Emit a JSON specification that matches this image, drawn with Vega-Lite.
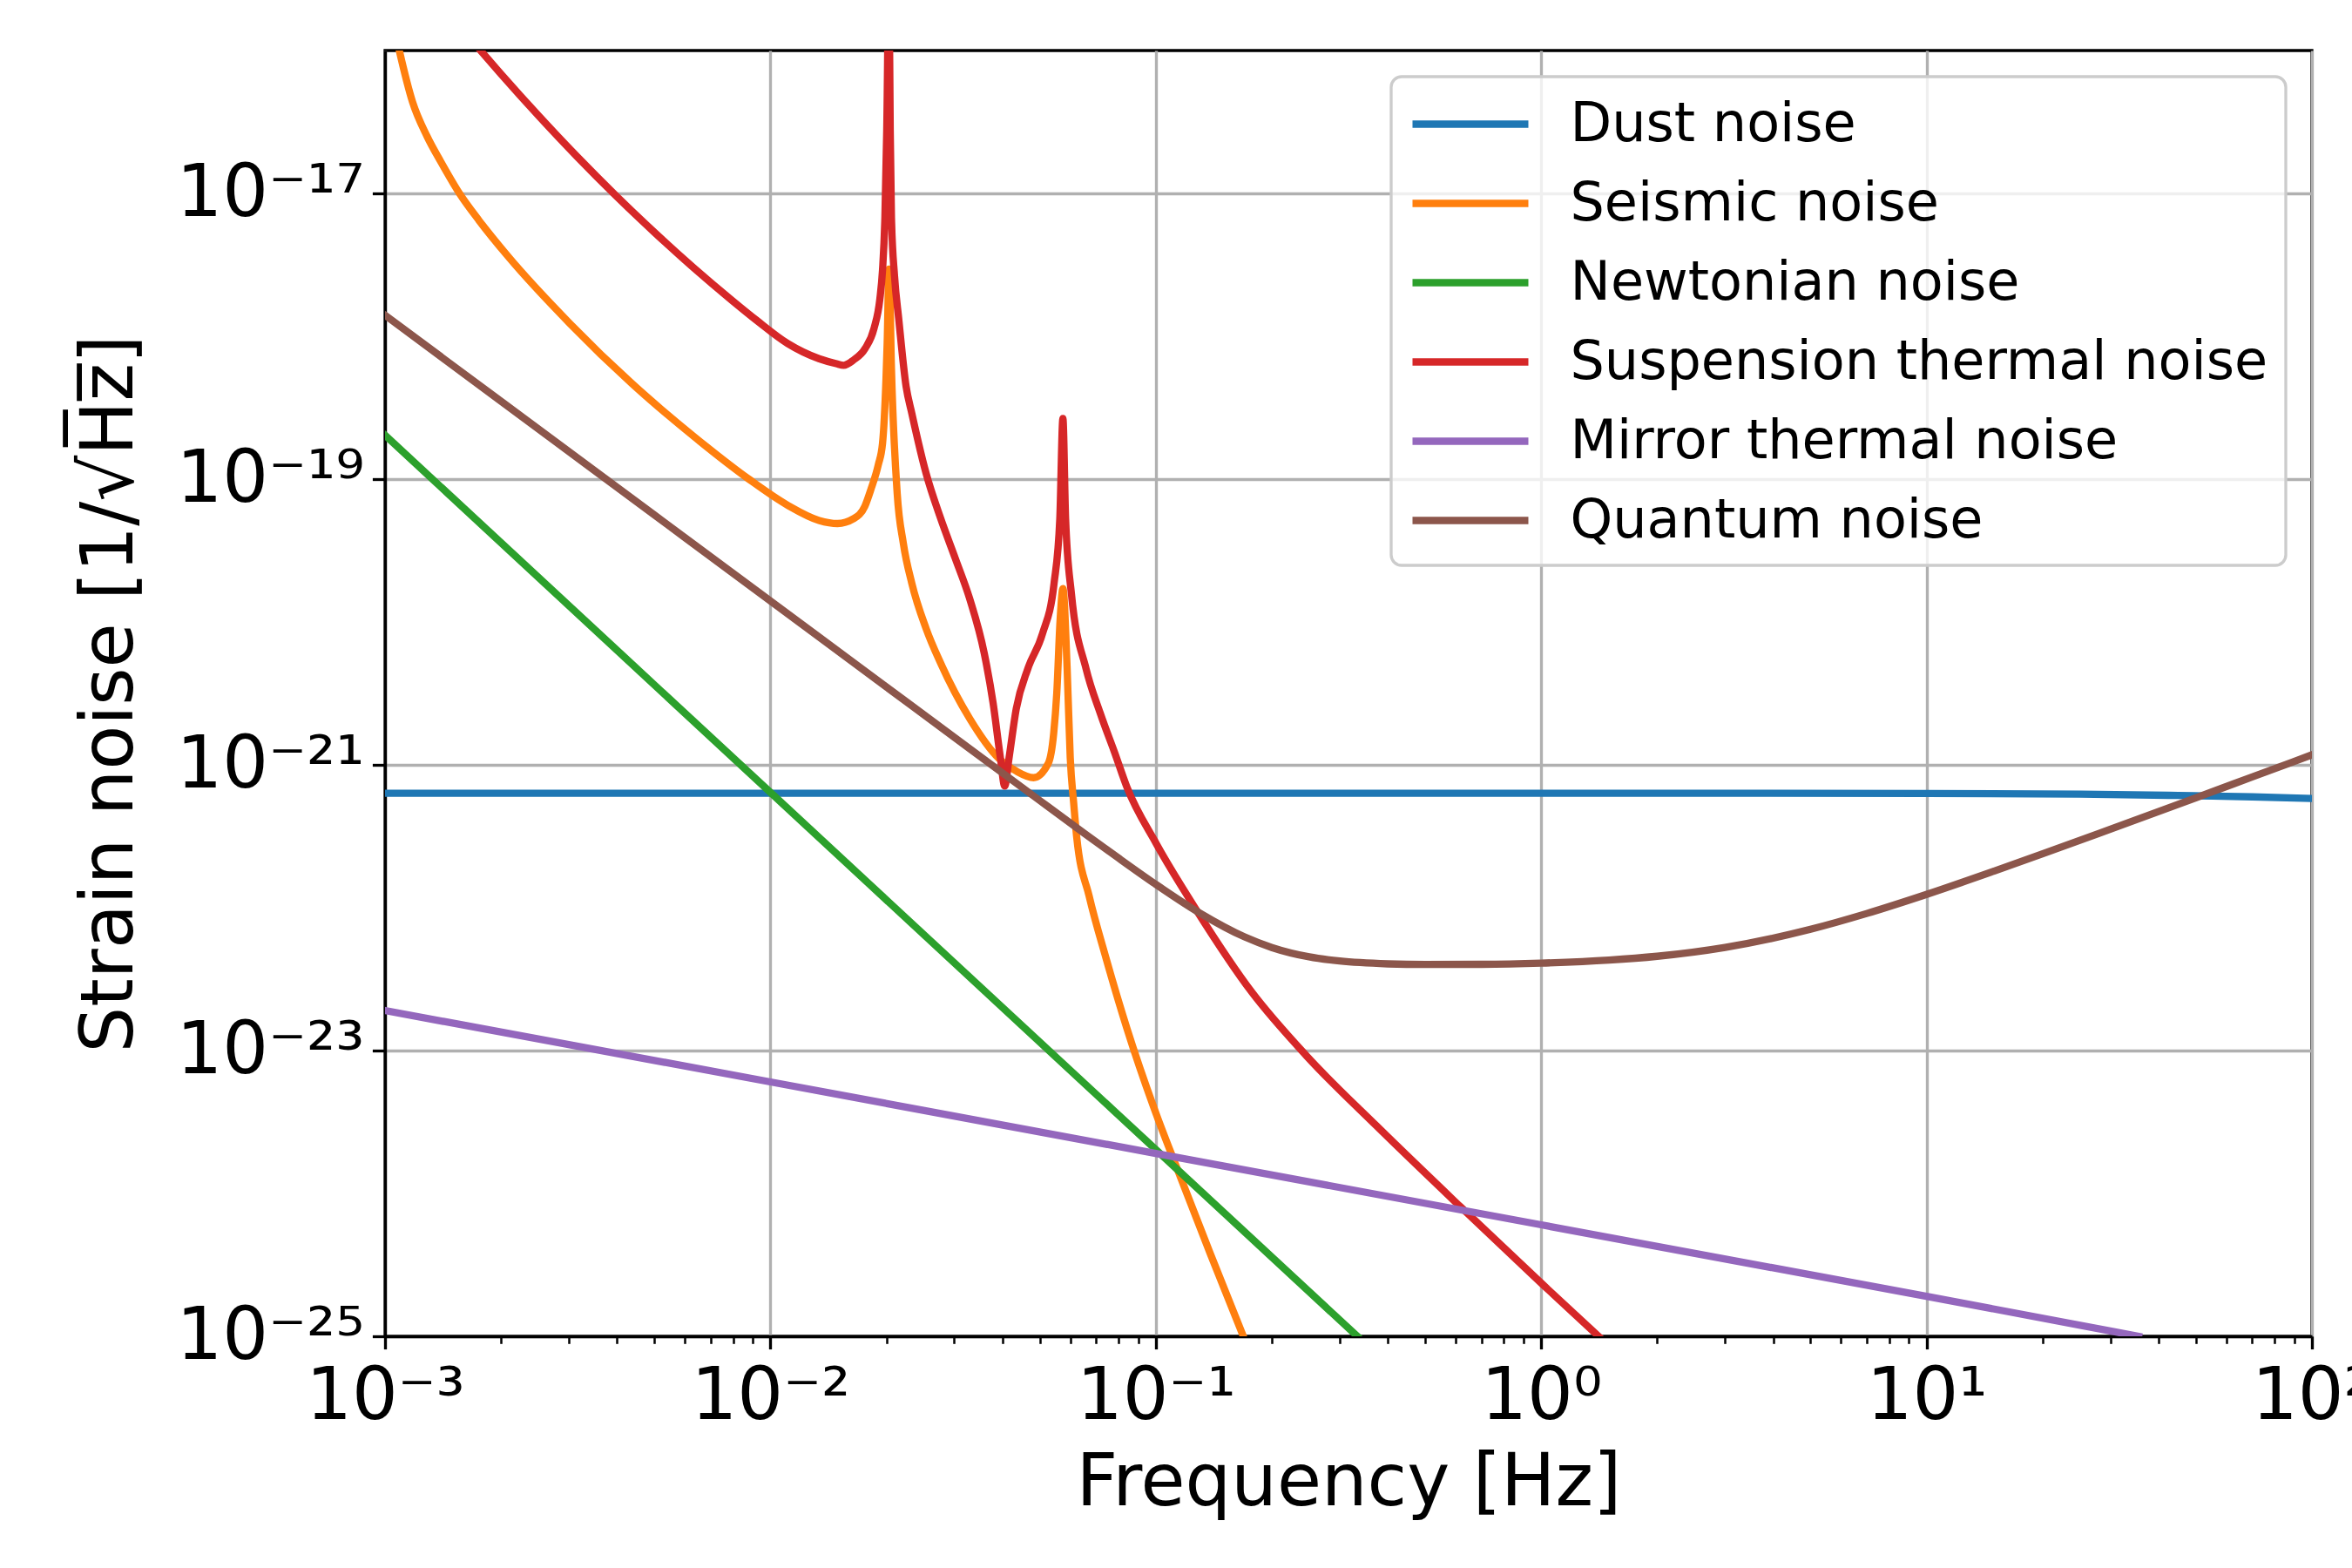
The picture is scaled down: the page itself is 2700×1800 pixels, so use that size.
{
  "$schema": "https://vega.github.io/schema/vega-lite/v6.json",
  "autosize": {"type": "none"},
  "padding": {"left": 442, "top": 58, "right": 46, "bottom": 266},
  "width": 2212,
  "height": 1476,
  "background": "white",
  "data": {"values": [
    {"series": "Dust noise", "f": 0.001, "h": 6.33e-22},
    {"series": "Dust noise", "f": 3, "h": 6.32e-22},
    {"series": "Dust noise", "f": 10, "h": 6.31e-22},
    {"series": "Dust noise", "f": 25, "h": 6.24e-22},
    {"series": "Dust noise", "f": 45, "h": 6.10e-22},
    {"series": "Dust noise", "f": 70, "h": 5.97e-22},
    {"series": "Dust noise", "f": 100, "h": 5.81e-22},

    {"series": "Seismic noise", "f": 0.001, "h": 3.0e-16},
    {"series": "Seismic noise", "f": 0.001089, "h": 1.0e-16},
    {"series": "Seismic noise", "f": 0.001178, "h": 4.385e-17},
    {"series": "Seismic noise", "f": 0.001285, "h": 2.512e-17},
    {"series": "Seismic noise", "f": 0.0014, "h": 1.641e-17},
    {"series": "Seismic noise", "f": 0.00156, "h": 1.0e-17},
    {"series": "Seismic noise", "f": 0.001754, "h": 6.457e-18},
    {"series": "Seismic noise", "f": 0.002084, "h": 3.631e-18},
    {"series": "Seismic noise", "f": 0.00302, "h": 1.225e-18},
    {"series": "Seismic noise", "f": 0.004375, "h": 4.656e-19},
    {"series": "Seismic noise", "f": 0.006353, "h": 1.972e-19},
    {"series": "Seismic noise", "f": 0.00879, "h": 1.0e-19},
    {"series": "Seismic noise", "f": 0.01109, "h": 6.561e-20},
    {"series": "Seismic noise", "f": 0.01337, "h": 5.14e-20},
    {"series": "Seismic noise", "f": 0.01493, "h": 4.887e-20},
    {"series": "Seismic noise", "f": 0.01644, "h": 5.284e-20},
    {"series": "Seismic noise", "f": 0.01758, "h": 6.457e-20},
    {"series": "Seismic noise", "f": 0.01824, "h": 8.511e-20},
    {"series": "Seismic noise", "f": 0.01905, "h": 1.259e-19},
    {"series": "Seismic noise", "f": 0.01954, "h": 1.778e-19},
    {"series": "Seismic noise", "f": 0.01995, "h": 5.012e-19},
    {"series": "Seismic noise", "f": 0.02009, "h": 8.913e-19},
    {"series": "Seismic noise", "f": 0.02032, "h": 2.951e-18},
    {"series": "Seismic noise", "f": 0.02061, "h": 5.943e-19},
    {"series": "Seismic noise", "f": 0.02133, "h": 7.943e-20},
    {"series": "Seismic noise", "f": 0.02213, "h": 3.548e-20},
    {"series": "Seismic noise", "f": 0.02328, "h": 1.862e-20},
    {"series": "Seismic noise", "f": 0.02535, "h": 8.995e-21},
    {"series": "Seismic noise", "f": 0.02767, "h": 5.129e-21},
    {"series": "Seismic noise", "f": 0.03289, "h": 2.109e-21},
    {"series": "Seismic noise", "f": 0.03917, "h": 1.107e-21},
    {"series": "Seismic noise", "f": 0.04345, "h": 9.036e-22},
    {"series": "Seismic noise", "f": 0.04819, "h": 8.128e-22},
    {"series": "Seismic noise", "f": 0.0526, "h": 1.023e-21},
    {"series": "Seismic noise", "f": 0.05433, "h": 1.66e-21},
    {"series": "Seismic noise", "f": 0.05534, "h": 3.162e-21},
    {"series": "Seismic noise", "f": 0.05649, "h": 1.057e-20},
    {"series": "Seismic noise", "f": 0.05741, "h": 1.714e-20},
    {"series": "Seismic noise", "f": 0.05888, "h": 4.71e-21},
    {"series": "Seismic noise", "f": 0.05998, "h": 1.122e-21},
    {"series": "Seismic noise", "f": 0.06124, "h": 5.37e-22},
    {"series": "Seismic noise", "f": 0.06237, "h": 3.09e-22},
    {"series": "Seismic noise", "f": 0.06714, "h": 1.208e-22},
    {"series": "Seismic noise", "f": 0.0743, "h": 4.426e-23},
    {"series": "Seismic noise", "f": 0.08414, "h": 1.432e-23},
    {"series": "Seismic noise", "f": 0.1002, "h": 3.606e-24},
    {"series": "Seismic noise", "f": 0.1135, "h": 1.5e-24},
    {"series": "Seismic noise", "f": 0.1384, "h": 3.802e-25},
    {"series": "Seismic noise", "f": 0.1687, "h": 1.0e-25},

    {"series": "Newtonian noise", "f": 0.001, "h": 2.03e-19},
    {"series": "Newtonian noise", "f": 0.01, "h": 6.41e-22},
    {"series": "Newtonian noise", "f": 0.1, "h": 2.028e-24},
    {"series": "Newtonian noise", "f": 0.3334, "h": 1.0e-25},

    {"series": "Suspension thermal noise", "f": 0.001585, "h": 1.42e-16},
    {"series": "Suspension thermal noise", "f": 0.00177, "h": 1.0e-16},
    {"series": "Suspension thermal noise", "f": 0.001995, "h": 6.902e-17},
    {"series": "Suspension thermal noise", "f": 0.002512, "h": 3.459e-17},
    {"series": "Suspension thermal noise", "f": 0.003162, "h": 1.791e-17},
    {"series": "Suspension thermal noise", "f": 0.003981, "h": 9.594e-18},
    {"series": "Suspension thermal noise", "f": 0.005012, "h": 5.309e-18},
    {"series": "Suspension thermal noise", "f": 0.00631, "h": 3.027e-18},
    {"series": "Suspension thermal noise", "f": 0.007943, "h": 1.786e-18},
    {"series": "Suspension thermal noise", "f": 0.009204, "h": 1.294e-18},
    {"series": "Suspension thermal noise", "f": 0.01109, "h": 8.892e-19},
    {"series": "Suspension thermal noise", "f": 0.01337, "h": 6.966e-19},
    {"series": "Suspension thermal noise", "f": 0.01483, "h": 6.427e-19},
    {"series": "Suspension thermal noise", "f": 0.01549, "h": 6.266e-19},
    {"series": "Suspension thermal noise", "f": 0.01644, "h": 6.823e-19},
    {"series": "Suspension thermal noise", "f": 0.01762, "h": 8.222e-19},
    {"series": "Suspension thermal noise", "f": 0.01858, "h": 1.14e-18},
    {"series": "Suspension thermal noise", "f": 0.01923, "h": 1.82e-18},
    {"series": "Suspension thermal noise", "f": 0.01954, "h": 2.904e-18},
    {"series": "Suspension thermal noise", "f": 0.01982, "h": 6.761e-18},
    {"series": "Suspension thermal noise", "f": 0.02004, "h": 2.754e-17},
    {"series": "Suspension thermal noise", "f": 0.0203, "h": 3.162e-16},
    {"series": "Suspension thermal noise", "f": 0.02046, "h": 2.754e-17},
    {"series": "Suspension thermal noise", "f": 0.02061, "h": 6.761e-18},
    {"series": "Suspension thermal noise", "f": 0.02099, "h": 2.649e-18},
    {"series": "Suspension thermal noise", "f": 0.02153, "h": 1.318e-18},
    {"series": "Suspension thermal noise", "f": 0.02249, "h": 4.467e-19},
    {"series": "Suspension thermal noise", "f": 0.02328, "h": 2.884e-19},
    {"series": "Suspension thermal noise", "f": 0.02535, "h": 1.096e-19},
    {"series": "Suspension thermal noise", "f": 0.02767, "h": 5.284e-20},
    {"series": "Suspension thermal noise", "f": 0.0302, "h": 2.773e-20},
    {"series": "Suspension thermal noise", "f": 0.03289, "h": 1.455e-20},
    {"series": "Suspension thermal noise", "f": 0.03589, "h": 6.026e-21},
    {"series": "Suspension thermal noise", "f": 0.03784, "h": 2.692e-21},
    {"series": "Suspension thermal noise", "f": 0.03954, "h": 1.107e-21},
    {"series": "Suspension thermal noise", "f": 0.04055, "h": 7.096e-22},
    {"series": "Suspension thermal noise", "f": 0.04159, "h": 1.107e-21},
    {"series": "Suspension thermal noise", "f": 0.04345, "h": 2.472e-21},
    {"series": "Suspension thermal noise", "f": 0.04656, "h": 4.71e-21},
    {"series": "Suspension thermal noise", "f": 0.05082, "h": 8.279e-21},
    {"series": "Suspension thermal noise", "f": 0.05445, "h": 1.862e-20},
    {"series": "Suspension thermal noise", "f": 0.05636, "h": 5.284e-20},
    {"series": "Suspension thermal noise", "f": 0.05741, "h": 2.655e-19},
    {"series": "Suspension thermal noise", "f": 0.05834, "h": 5.284e-20},
    {"series": "Suspension thermal noise", "f": 0.06039, "h": 1.585e-20},
    {"series": "Suspension thermal noise", "f": 0.06592, "h": 4.71e-21},
    {"series": "Suspension thermal noise", "f": 0.07178, "h": 2.291e-21},
    {"series": "Suspension thermal noise", "f": 0.07834, "h": 1.202e-21},
    {"series": "Suspension thermal noise", "f": 0.08414, "h": 6.982e-22},
    {"series": "Suspension thermal noise", "f": 0.1002, "h": 2.818e-22},
    {"series": "Suspension thermal noise", "f": 0.1282, "h": 9.397e-23},
    {"series": "Suspension thermal noise", "f": 0.1774, "h": 2.57e-23},
    {"series": "Suspension thermal noise", "f": 0.2455, "h": 9.247e-24},
    {"series": "Suspension thermal noise", "f": 0.3741, "h": 2.965e-24},
    {"series": "Suspension thermal noise", "f": 0.6166, "h": 8.091e-25},
    {"series": "Suspension thermal noise", "f": 1.007, "h": 2.317e-25},
    {"series": "Suspension thermal noise", "f": 1.409, "h": 1.0e-25},

    {"series": "Mirror thermal noise", "f": 0.001, "h": 1.905e-23},
    {"series": "Mirror thermal noise", "f": 0.01, "h": 6.03e-24},
    {"series": "Mirror thermal noise", "f": 0.1, "h": 1.905e-24},
    {"series": "Mirror thermal noise", "f": 1, "h": 6.03e-25},
    {"series": "Mirror thermal noise", "f": 10, "h": 1.905e-25},
    {"series": "Mirror thermal noise", "f": 35.5, "h": 1.0e-25},

    {"series": "Quantum noise", "f": 0.001, "h": 1.403e-18},
    {"series": "Quantum noise", "f": 0.002, "h": 3.508e-19},
    {"series": "Quantum noise", "f": 0.005, "h": 5.612e-20},
    {"series": "Quantum noise", "f": 0.01, "h": 1.403e-20},
    {"series": "Quantum noise", "f": 0.02, "h": 3.508e-21},
    {"series": "Quantum noise", "f": 0.03, "h": 1.559e-21},
    {"series": "Quantum noise", "f": 0.05, "h": 5.625e-22},
    {"series": "Quantum noise", "f": 0.065, "h": 3.344e-22},
    {"series": "Quantum noise", "f": 0.08, "h": 2.227e-22},
    {"series": "Quantum noise", "f": 0.1, "h": 1.457e-22},
    {"series": "Quantum noise", "f": 0.13, "h": 9.182e-23},
    {"series": "Quantum noise", "f": 0.17, "h": 6.243e-23},
    {"series": "Quantum noise", "f": 0.2, "h": 5.266e-23},
    {"series": "Quantum noise", "f": 0.25, "h": 4.527e-23},
    {"series": "Quantum noise", "f": 0.3, "h": 4.234e-23},
    {"series": "Quantum noise", "f": 0.4, "h": 4.045e-23},
    {"series": "Quantum noise", "f": 0.5, "h": 4.004e-23},
    {"series": "Quantum noise", "f": 0.7, "h": 4.016e-23},
    {"series": "Quantum noise", "f": 1, "h": 4.095e-23},
    {"series": "Quantum noise", "f": 1.5, "h": 4.298e-23},
    {"series": "Quantum noise", "f": 2, "h": 4.571e-23},
    {"series": "Quantum noise", "f": 3, "h": 5.272e-23},
    {"series": "Quantum noise", "f": 5, "h": 7.063e-23},
    {"series": "Quantum noise", "f": 7, "h": 9.112e-23},
    {"series": "Quantum noise", "f": 10, "h": 1.2387e-22},
    {"series": "Quantum noise", "f": 15, "h": 1.8056e-22},
    {"series": "Quantum noise", "f": 20, "h": 2.3825e-22},
    {"series": "Quantum noise", "f": 30, "h": 3.5467e-22},
    {"series": "Quantum noise", "f": 50, "h": 5.878e-22},
    {"series": "Quantum noise", "f": 70, "h": 8.227e-22},
    {"series": "Quantum noise", "f": 100, "h": 1.175e-21}
  ]},
  "encoding": {
    "y": {
      "field": "h", "type": "quantitative",
      "scale": {"type": "log", "domain": [1e-25, 1e-16], "nice": false},
      "title": "Strain noise [1/\u221aH\u0305z\u0305]",
      "axis": {
        "values": [1e-25, 1e-23, 1e-21, 1e-19, 1e-17],
        "labelExpr": "round(log(datum.value)/LN10) == -25 ? '10⁻²⁵' : round(log(datum.value)/LN10) == -23 ? '10⁻²³' : round(log(datum.value)/LN10) == -21 ? '10⁻²¹' : round(log(datum.value)/LN10) == -19 ? '10⁻¹⁹' : '10⁻¹⁷'",
        "tickSize": 14.6, "tickWidth": 3.33,
        "labelPadding": 9.4, "labelBaseline": "middle",
        "grid": true,
        "titleX": -291, "titleY": 738, "titleBaseline": "alphabetic", "titleAngle": -90, "titleAlign": "center"
      }
    },
    "color": {
      "field": "series", "type": "nominal",
      "scale": {
        "domain": ["Dust noise", "Seismic noise", "Newtonian noise", "Suspension thermal noise", "Mirror thermal noise", "Quantum noise"],
        "range": ["#1f77b4", "#ff7f0e", "#2ca02c", "#d62728", "#9467bd", "#8c564b"]
      },
      "legend": {"title": null}
    }
  },
  "layer": [
    {
      "transform": [{"filter": "datum.series === 'Dust noise'"}],
      "mark": {"type": "line", "strokeWidth": 8.33, "clip": true, "strokeJoin": "round", "strokeCap": "square", "interpolate": "monotone"},
      "encoding": {
        "x": {
          "field": "f", "type": "quantitative",
          "scale": {"type": "log", "domain": [0.001, 100], "nice": false},
          "title": "Frequency [Hz]",
          "axis": {
            "orient": "bottom",
            "values": [0.001, 0.01, 0.1, 1, 10, 100],
            "labelExpr": "datum.value == 0.001 ? '10⁻³' : datum.value == 0.01 ? '10⁻²' : datum.value == 0.1 ? '10⁻¹' : datum.value == 1 ? '10⁰' : datum.value == 10 ? '10¹' : '10²'",
            "tickSize": 14.6, "tickWidth": 3.33,
            "labelPadding": 13.4, "labelBaseline": "top",
            "grid": true,
            "titleY": 193, "titleBaseline": "alphabetic"
          }
        }
      }
    },
    {
      "transform": [{"filter": "datum.series === 'Seismic noise'"}],
      "mark": {"type": "line", "strokeWidth": 8.33, "clip": true, "strokeJoin": "round", "strokeCap": "square", "interpolate": "monotone"},
      "encoding": {
        "x": {
          "field": "f", "type": "quantitative",
          "scale": {"type": "log", "domain": [0.001, 100], "nice": false},
          "axis": {
            "orient": "bottom",
            "values": [0.002, 0.003, 0.004, 0.005, 0.006, 0.007, 0.008, 0.009, 0.02, 0.03, 0.04, 0.05, 0.06, 0.07, 0.08, 0.09, 0.2, 0.3, 0.4, 0.5, 0.6, 0.7, 0.8, 0.9, 2, 3, 4, 5, 6, 7, 8, 9, 20, 30, 40, 50, 60, 70, 80, 90],
            "labels": false, "grid": false, "domain": false, "title": null,
            "tickSize": 8.3, "tickWidth": 2.5
          }
        }
      }
    },
    {
      "transform": [{"filter": "datum.series === 'Newtonian noise'"}],
      "mark": {"type": "line", "strokeWidth": 8.33, "clip": true, "strokeJoin": "round", "strokeCap": "square"},
      "encoding": {"x": {"field": "f", "type": "quantitative", "scale": {"type": "log", "domain": [0.001, 100], "nice": false}, "axis": null}}
    },
    {
      "transform": [{"filter": "datum.series === 'Suspension thermal noise'"}],
      "mark": {"type": "line", "strokeWidth": 8.33, "clip": true, "strokeJoin": "round", "strokeCap": "square", "interpolate": "monotone"},
      "encoding": {"x": {"field": "f", "type": "quantitative", "scale": {"type": "log", "domain": [0.001, 100], "nice": false}, "axis": null}}
    },
    {
      "transform": [{"filter": "datum.series === 'Mirror thermal noise'"}],
      "mark": {"type": "line", "strokeWidth": 8.33, "clip": true, "strokeJoin": "round", "strokeCap": "square"},
      "encoding": {"x": {"field": "f", "type": "quantitative", "scale": {"type": "log", "domain": [0.001, 100], "nice": false}, "axis": null}}
    },
    {
      "transform": [{"filter": "datum.series === 'Quantum noise'"}],
      "mark": {"type": "line", "strokeWidth": 8.33, "clip": true, "strokeJoin": "round", "strokeCap": "square", "interpolate": "monotone"},
      "encoding": {"x": {"field": "f", "type": "quantitative", "scale": {"type": "log", "domain": [0.001, 100], "nice": false}, "axis": null}}
    }
  ],
  "resolve": {"axis": {"x": "independent"}},
  "config": {
    "font": "DejaVu Sans",
    "view": {"stroke": "black", "strokeWidth": 3.33},
    "axis": {
      "domainColor": "black", "domainWidth": 3.33,
      "tickColor": "black",
      "labelColor": "black", "titleColor": "black",
      "labelFont": "DejaVu Sans", "titleFont": "DejaVu Sans",
      "labelFontSize": 83, "titleFontSize": 83, "titleFontWeight": "normal",
      "gridColor": "#b0b0b0", "gridWidth": 3.33, "gridOpacity": 1,
      "labelFlush": false, "labelOverlap": false, "labelBound": false, "labelLimit": 1000
    },
    "legend": {
      "orient": "top-right", "offset": 30, "padding": 20,
      "fillColor": "rgba(255,255,255,0.8)", "strokeColor": "#cccccc", "strokeWidth": 3.33, "cornerRadius": 12,
      "labelFont": "DejaVu Sans", "labelFontSize": 62, "labelColor": "black", "labelLimit": 2000,
      "symbolType": "M-2.2167,0H2.2167", "symbolSize": 3600, "symbolStrokeWidth": 8.33, "symbolOffset": 36.5,
      "labelOffset": 80, "rowPadding": 25
    }
  }
}
